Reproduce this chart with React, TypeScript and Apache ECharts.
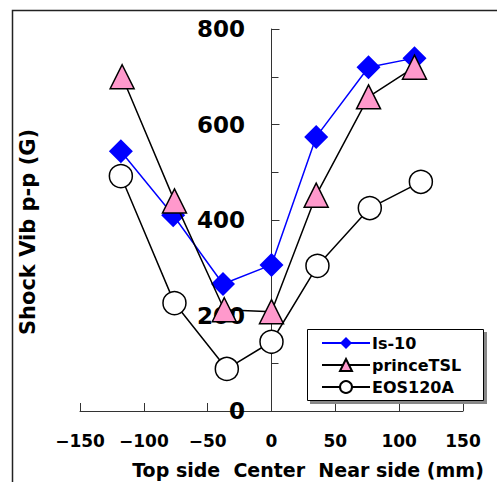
import React, { useEffect, useRef } from "react";
import * as echarts from "echarts";

const seriesNames = ["Is-10", "princeTSL", "EOS120A"];
const isX = [-118, -77, -38, 0, 35, 76, 112];
const isY = [544, 410, 266, 306, 574, 720, 739];
const princeX = [-117, -76, -37, 0, 35, 76, 112];
const princeY = [700, 440, 212, 208, 452, 658, 720];
const eosX = [-118, -76, -35, 0, 36, 77, 117];
const eosY = [492, 226, 88, 145, 304, 425, 480];
const xTitle = "Top side  Center  Near side (mm)";
const yTitle = "Shock Vib p-p (G)";

const FONT = "DejaVu Sans";

const zip = (xs: number[], ys: number[]) => xs.map((x, i) => [x, ys[i]]);

export default function App() {
  const ref = useRef<HTMLDivElement>(null);
  useEffect(() => {
    document.body.style.margin = "0";
    if (!ref.current) return;
    const chart = echarts.init(ref.current, null, { renderer: "svg" });
    chart.setOption({
      animation: false,
      backgroundColor: "#fff",
      textStyle: { fontFamily: FONT },
      grid: { left: 80, right: 34, top: 29, bottom: 71 },
      xAxis: {
        type: "value",
        min: -150,
        max: 150,
        interval: 50,
        splitLine: { show: false },
        axisLine: { lineStyle: { color: "#333", width: 1 } },
        axisTick: { inside: true, length: 8, lineStyle: { color: "#333" } },
        axisLabel: {
          margin: 21,
          fontSize: 17,
          fontWeight: "bold",
          color: "#000",
          fontFamily: FONT,
          formatter: (v: number) => (v < 0 ? "\u2212" + Math.abs(v) : String(v)),
        },
      },
      yAxis: {
        type: "value",
        min: 0,
        max: 800,
        interval: 200,
        splitLine: { show: false },
        axisLine: { show: true, onZero: true, lineStyle: { color: "#333", width: 1 } },
        axisTick: { show: true, inside: true, length: 8, lineStyle: { color: "#333" } },
        minorTick: { show: true, splitNumber: 2, length: 7, lineStyle: { color: "#333" } },
        axisLabel: {
          margin: -165,
          fontSize: 23,
          fontWeight: "bold",
          color: "#000",
          fontFamily: FONT,
        },
      },
      legend: {
        orient: "vertical",
        left: 307,
        top: 329,
        padding: [6, 20, 8, 14],
        itemWidth: 48,
        itemHeight: 15,
        itemGap: 6,
        backgroundColor: "transparent",
        borderWidth: 0,
        z: 10,
        textStyle: {
          fontSize: 16,
          fontWeight: "bold",
          color: "#000",
          fontFamily: FONT,
          padding: [0, 0, 0, -3],
        },
        data: seriesNames,
      },
      graphic: [
        {
          type: "rect",
          z: 1,
          silent: true,
          shape: { x: 12.5, y: 10.5, width: 700, height: 700 },
          style: { fill: "none", stroke: "#222", lineWidth: 1.5 },
        },
        {
          type: "rect",
          z: 5,
          silent: true,
          shape: { x: 310, y: 332, width: 177, height: 72 },
          style: { fill: "#888", stroke: "none" },
        },
        {
          type: "rect",
          z: 6,
          silent: true,
          shape: { x: 307.5, y: 329.5, width: 176, height: 71 },
          style: { fill: "#fff", stroke: "#000", lineWidth: 1 },
        },
        {
          type: "text",
          x: 308,
          y: 470,
          style: {
            text: xTitle,
            fontSize: 19,
            fontWeight: "bold",
            fontFamily: FONT,
            fill: "#000",
            align: "center",
            verticalAlign: "middle",
          },
        },
        {
          type: "text",
          x: 28,
          y: 232,
          rotation: Math.PI / 2,
          style: {
            text: yTitle,
            fontSize: 21,
            fontWeight: "bold",
            fontFamily: FONT,
            fill: "#000",
            align: "center",
            verticalAlign: "middle",
          },
        },
      ],
      series: [
        {
          name: seriesNames[0],
          type: "line",
          data: zip(isX, isY),
          symbol: "diamond",
          symbolSize: 24,
          lineStyle: { color: "#0000ff", width: 1.5 },
          itemStyle: { color: "#0000ff", borderWidth: 0 },
          z: 2,
        },
        {
          name: seriesNames[1],
          type: "line",
          data: zip(princeX, princeY),
          symbol: "triangle",
          symbolSize: 24,
          lineStyle: { color: "#000", width: 1.5 },
          itemStyle: { color: "#ff99cc", borderColor: "#000", borderWidth: 1.5 },
          z: 3,
        },
        {
          name: seriesNames[2],
          type: "line",
          data: zip(eosX, eosY),
          symbol: "circle",
          symbolSize: 23,
          lineStyle: { color: "#000", width: 1.5 },
          itemStyle: { color: "#fff", borderColor: "#000", borderWidth: 1.5 },
          z: 4,
        },
      ],
    });
    return () => chart.dispose();
  }, []);
  return <div ref={ref} style={{ width: 497, height: 482 }} />;
}
